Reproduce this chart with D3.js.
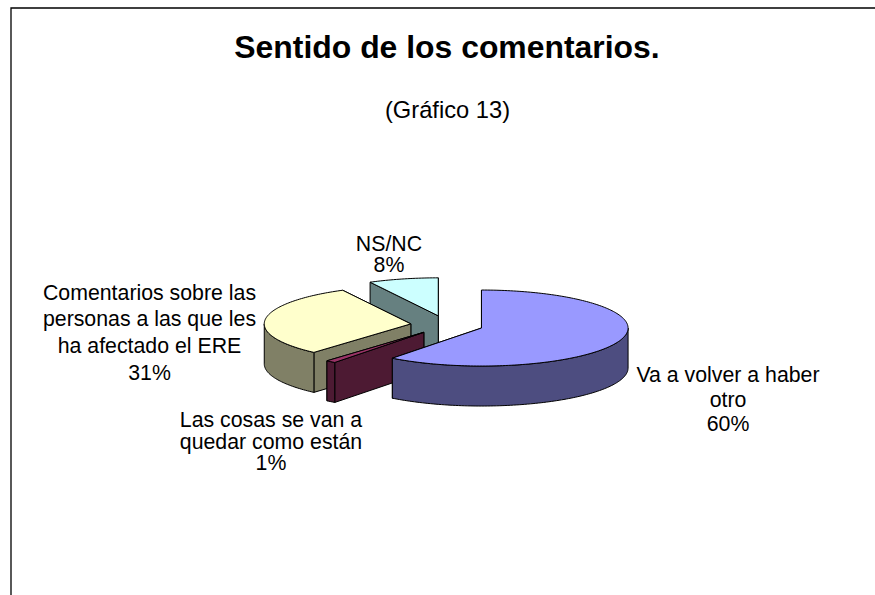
<!DOCTYPE html>
<html>
<head>
<meta charset="utf-8">
<script src="https://cdnjs.cloudflare.com/ajax/libs/d3/7.8.5/d3.min.js"></script>
<style>
  html, body { margin: 0; padding: 0; background: #fff; }
  svg { display: block; font-family: "Liberation Sans", Arial, sans-serif; }
</style>
</head>
<body>
<svg width="875" height="595"></svg>
<script>
const categories = ["Va a volver a haber otro", "Las cosas se van a quedar como están", "Comentarios sobre las personas a las que les ha afectado el ERE", "NS/NC"];
const values = [60.4, 1.1, 30.8, 7.7];
const labelLines = [
  ["Va a volver a haber", "otro"],
  ["Las cosas se van a", "quedar como están"],
  ["Comentarios sobre las", "personas a las que les", "ha afectado el ERE"],
  ["NS/NC"]
];
const topColors = ["#9999ff", "#993366", "#ffffcc", "#ccffff"];
const sideColors = ["#4d4d80", "#4d1a33", "#808066", "#668080"];

// label placement, first line baseline
const labelX = [728, 271, 149.5, 389];
const labelY = [382, 427, 299.5, 251];
const labelStep = [24.7, 21.5, 26.8, 21];

const svg = d3.select("svg");

const center = { x: 447, y: 325 };
const rx = 146.6, ry = 38, depth = 40, explode = 36.4;

const x = d3.scaleLinear().domain([-1, 1]).range([center.x - rx, center.x + rx]);
const y = d3.scaleLinear().domain([-1, 1]).range([center.y - ry, center.y + ry]);

const slices = d3.pie().sort(null).startAngle(0).endAngle(2 * Math.PI)(values);

const line = d3.line().x((d) => d[0]).y((d) => d[1]);

// frame, only left and top sides show
svg.append("path")
  .attr("d", line([[11, 595], [11, 8], [875, 8]]))
  .attr("fill", "none")
  .attr("stroke", "#000")
  .attr("stroke-width", 1.3);

svg.append("text")
  .attr("x", 447)
  .attr("y", 58)
  .attr("text-anchor", "middle")
  .style("font-size", "31.9px")
  .style("font-weight", "bold")
  .text("Sentido de los comentarios.");

svg.append("text")
  .attr("x", 447.5)
  .attr("y", 118)
  .attr("text-anchor", "middle")
  .style("font-size", "23.7px")
  .text("(Gráfico 13)");

const arcAngles = (a0, a1) => {
  const n = Math.max(2, Math.ceil((a1 - a0) / 0.02));
  return d3.range(n + 1).map((i) => a0 + ((a1 - a0) * i) / n);
};

const pie = svg.append("g");

// back slices first, blue goes on top of all
[3, 2, 1, 0].forEach((i) => {
  const s = slices[i];
  const mid = (s.startAngle + s.endAngle) / 2;
  const ox = x(Math.sin(mid) * explode / rx) - x(0);
  const oy = y(-Math.cos(mid) * explode / rx) - y(0);
  const px = (a) => x(Math.sin(a)) + ox;
  const py = (a) => y(-Math.cos(a)) + oy;
  const ax = x(0) + ox, ay = y(0) + oy;
  const g = pie.append("g");

  // radial faces
  [s.endAngle, s.startAngle].forEach((a) => {
    g.append("path")
      .attr("d", line([[ax, ay], [px(a), py(a)], [px(a), py(a) + depth], [ax, ay + depth]]) + "Z")
      .attr("fill", sideColors[i])
      .attr("stroke", "#000")
      .attr("stroke-width", 1)
      .attr("stroke-linejoin", "round");
  });

  // outer wall, only the front half of the rim
  const w0 = Math.max(s.startAngle, Math.PI / 2);
  const w1 = Math.min(s.endAngle, 1.5 * Math.PI);
  if (w1 > w0) {
    const rim = arcAngles(w0, w1);
    const pts = rim.map((a) => [px(a), py(a)])
      .concat(rim.slice().reverse().map((a) => [px(a), py(a) + depth]));
    g.append("path")
      .attr("d", line(pts) + "Z")
      .attr("fill", sideColors[i])
      .attr("stroke", "#000")
      .attr("stroke-width", 1)
      .attr("stroke-linejoin", "round");
  }

  // top
  const topPts = [[ax, ay]].concat(arcAngles(s.startAngle, s.endAngle).map((a) => [px(a), py(a)]));
  g.append("path")
    .attr("d", line(topPts) + "Z")
    .attr("fill", topColors[i])
    .attr("stroke", "#000")
    .attr("stroke-width", 1)
    .attr("stroke-linejoin", "round");
});

const labels = svg.append("g")
  .attr("text-anchor", "middle")
  .style("font-size", "21.3px");

categories.forEach((c, i) => {
  const lines = labelLines[i].concat(Math.round(values[i]) + "%");
  lines.forEach((t, j) => {
    labels.append("text")
      .attr("x", labelX[i])
      .attr("y", labelY[i] + j * labelStep[i])
      .text(t);
  });
});
</script>
</body>
</html>
